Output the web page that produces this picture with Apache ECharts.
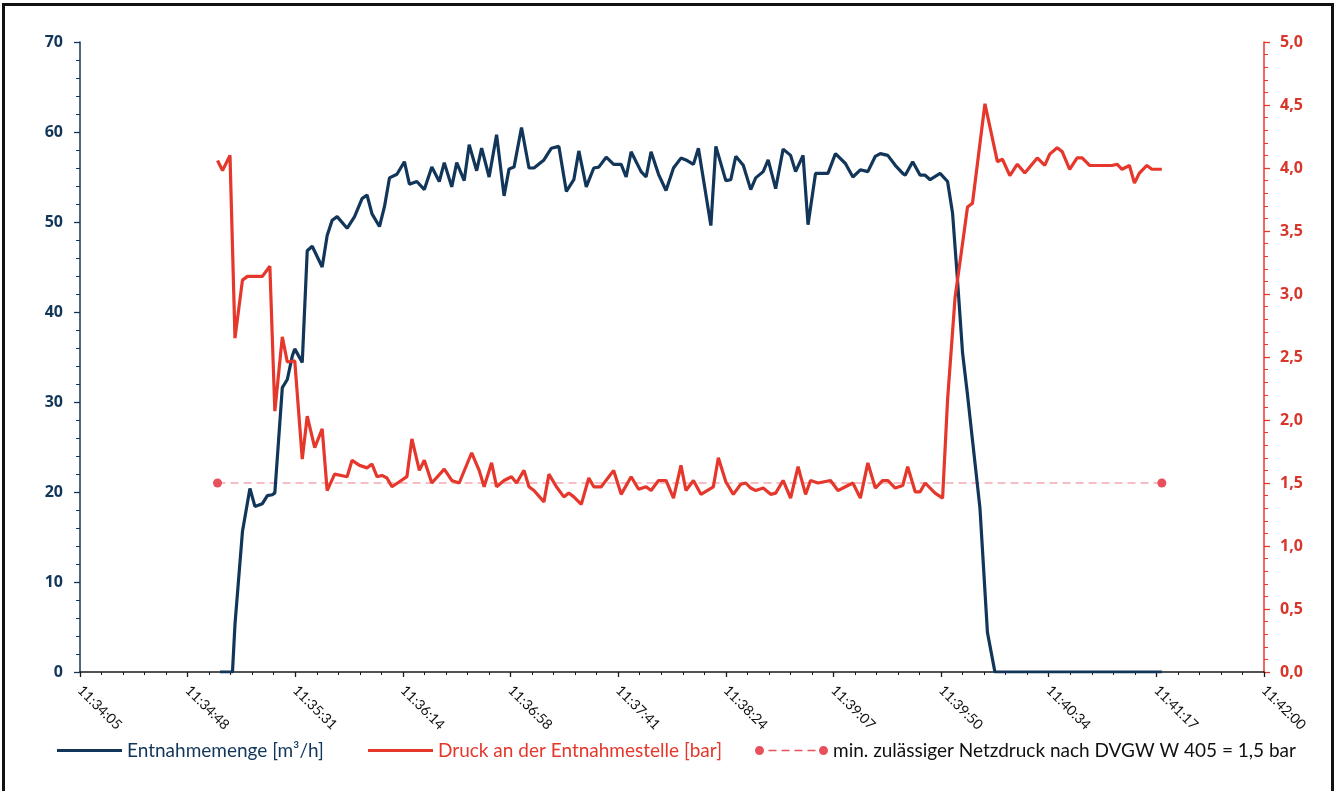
<!DOCTYPE html>
<html>
<head>
<meta charset="utf-8">
<script src="https://cdn.jsdelivr.net/npm/echarts@6/dist/echarts.min.js"></script>
<style>
  html, body { margin: 0; padding: 0; background: #fff; }
  #chart { width: 1336px; height: 791px; }
</style>
</head>
<body>
<div id="chart"></div>
<script>
// ---- data ----
const xTickLabels = ['11:34:05','11:34:48','11:35:31','11:36:14','11:36:58','11:37:41',
                     '11:38:24','11:39:07','11:39:50','11:40:34','11:41:17','11:42:00'];

const flowName = 'Entnahmemenge [m³/h]';
const pressureName = 'Druck an der Entnahmestelle [bar]';
const limitName = 'min. zulässiger Netzdruck nach DVGW W 405 = 1,5 bar';

const flowTimes = ['11:35:01','11:35:06','11:35:07','11:35:10','11:35:13','11:35:15','11:35:18','11:35:20','11:35:22','11:35:23',
  '11:35:26','11:35:28','11:35:30','11:35:31','11:35:33','11:35:34','11:35:36','11:35:38','11:35:42','11:35:44',
  '11:35:46','11:35:48','11:35:52','11:35:55','11:35:58','11:36:00','11:36:02','11:36:05','11:36:07','11:36:09',
  '11:36:12','11:36:15','11:36:17','11:36:20','11:36:23','11:36:26','11:36:29','11:36:31','11:36:34','11:36:36',
  '11:36:39','11:36:41','11:36:44','11:36:46','11:36:49','11:36:52','11:36:55','11:36:57','11:36:59','11:37:02',
  '11:37:05','11:37:07','11:37:11','11:37:14','11:37:17','11:37:20','11:37:23','11:37:25','11:37:28','11:37:31',
  '11:37:33','11:37:36','11:37:39','11:37:42','11:37:44','11:37:46','11:37:50','11:37:52','11:37:54','11:37:57',
  '11:38:00','11:38:03','11:38:06','11:38:08','11:38:11','11:38:13','11:38:18','11:38:20','11:38:24','11:38:26',
  '11:38:28','11:38:31','11:38:34','11:38:36','11:38:39','11:38:41','11:38:44','11:38:47','11:38:50','11:38:52',
  '11:38:55','11:38:57','11:39:00','11:39:05','11:39:08','11:39:12','11:39:15','11:39:18','11:39:21','11:39:24',
  '11:39:26','11:39:29','11:39:32','11:39:35','11:39:36','11:39:39','11:39:42','11:39:44','11:39:46','11:39:50',
  '11:39:53','11:39:55','11:39:57','11:39:59','11:40:01','11:40:06','11:40:09','11:40:12','11:41:19'];
const flowValues = [0,0,5.3,15.6,20.4,18.4,18.7,19.6,19.7,19.9,
  31.6,32.5,35.1,35.9,34.9,34.4,46.8,47.3,45.0,48.5,
  50.2,50.6,49.3,50.6,52.6,53.0,50.9,49.5,51.7,54.9,
  55.3,56.7,54.2,54.5,53.6,56.1,54.5,56.6,53.9,56.6,
  54.6,58.6,55.7,58.2,55.0,59.7,52.9,55.9,56.1,60.5,
  56.0,56.0,56.9,58.2,58.4,53.4,54.7,57.9,53.9,56.0,
  56.1,57.2,56.4,56.4,55.0,57.8,55.6,55.0,57.8,55.3,
  53.5,56.0,57.1,56.9,56.4,58.2,49.6,58.4,54.6,54.7,
  57.3,56.3,53.6,54.9,55.6,56.9,53.7,58.1,57.4,55.6,
  57.4,49.7,55.4,55.4,57.6,56.5,55.0,55.8,55.6,57.3,
  57.6,57.4,56.3,55.4,55.2,56.7,55.2,55.2,54.7,55.4,
  54.5,51.0,43.5,35.5,30.8,18.2,4.4,0,0];

const pressureTimes = ['11:35:00','11:35:02','11:35:05','11:35:07','11:35:10','11:35:12','11:35:18','11:35:21','11:35:23','11:35:26',
  '11:35:28','11:35:31','11:35:34','11:35:36','11:35:39','11:35:42','11:35:44','11:35:47','11:35:52','11:35:54',
  '11:35:57','11:36:00','11:36:02','11:36:04','11:36:06','11:36:08','11:36:10','11:36:13','11:36:16','11:36:18',
  '11:36:21','11:36:23','11:36:26','11:36:31','11:36:34','11:36:37','11:36:42','11:36:45','11:36:47','11:36:50',
  '11:36:52','11:36:55','11:36:58','11:37:00','11:37:03','11:37:05','11:37:07','11:37:11','11:37:13','11:37:16',
  '11:37:19','11:37:21','11:37:23','11:37:26','11:37:29','11:37:31','11:37:34','11:37:39','11:37:42','11:37:46',
  '11:37:49','11:37:52','11:37:54','11:37:57','11:38:00','11:38:03','11:38:06','11:38:08','11:38:11','11:38:14',
  '11:38:19','11:38:21','11:38:24','11:38:27','11:38:30','11:38:32','11:38:34','11:38:36','11:38:39','11:38:42',
  '11:38:44','11:38:47','11:38:50','11:38:53','11:38:56','11:38:58','11:39:01','11:39:06','11:39:09','11:39:12',
  '11:39:15','11:39:18','11:39:21','11:39:24','11:39:27','11:39:29','11:39:32','11:39:35','11:39:37','11:39:40',
  '11:39:42','11:39:44','11:39:48','11:39:51','11:39:53','11:39:56','11:39:59','11:40:01','11:40:03','11:40:08',
  '11:40:13','11:40:15','11:40:18','11:40:21','11:40:24','11:40:29','11:40:32','11:40:34','11:40:37','11:40:39',
  '11:40:42','11:40:45','11:40:47','11:40:50','11:40:59','11:41:01','11:41:03','11:41:06','11:41:08','11:41:10',
  '11:41:13','11:41:15','11:41:19'];
const pressureValues = [4.06,3.98,4.10,2.65,3.11,3.14,3.14,3.22,2.07,2.66,
  2.46,2.47,1.69,2.03,1.78,1.93,1.44,1.57,1.55,1.68,
  1.64,1.62,1.65,1.55,1.56,1.54,1.47,1.51,1.55,1.85,
  1.60,1.68,1.50,1.61,1.52,1.50,1.74,1.60,1.47,1.66,
  1.47,1.52,1.55,1.50,1.60,1.47,1.44,1.35,1.57,1.47,
  1.39,1.42,1.39,1.33,1.54,1.47,1.47,1.60,1.41,1.55,
  1.45,1.47,1.44,1.52,1.52,1.38,1.64,1.44,1.52,1.41,
  1.47,1.70,1.51,1.41,1.49,1.50,1.46,1.44,1.46,1.41,
  1.42,1.52,1.38,1.63,1.41,1.52,1.50,1.52,1.44,1.47,
  1.50,1.38,1.66,1.46,1.52,1.52,1.46,1.48,1.63,1.43,
  1.43,1.50,1.42,1.38,2.16,2.97,3.40,3.69,3.72,4.51,
  4.05,4.07,3.94,4.03,3.96,4.08,4.02,4.11,4.16,4.13,
  3.99,4.08,4.08,4.02,4.02,4.03,3.99,4.02,3.88,3.96,
  4.02,3.99,3.99];

const limitTimes = ['11:35:00','11:41:19'];
const limitValues = [1.5, 1.5];

// ---- helpers ----
function toSec(t) {
  const p = t.split(':').map(Number);
  return p[0] * 3600 + p[1] * 60 + p[2];
}
function pairs(times, values) {
  return times.map((t, i) => [toSec(t), values[i]]);
}

const X_MIN = toSec('11:34:00') + 4.8;   // 0.482 day
const X_STEP = 43.2;                     // 0.0005 day
const X_MAX = toSec('11:42:00');

const BLUE = '#12365a';
const RED = '#e5372b';
const PINK = '#ea7f8a';
const DOT = '#e8505c';

const chart = echarts.init(document.getElementById('chart'), null, { renderer: 'canvas' });

const legendText = { fontFamily: 'Lato', fontSize: 19 };

chart.setOption({
  animation: false,
  backgroundColor: '#fff',
  graphic: [{
    type: 'rect',
    shape: { x: 3.5, y: 4.5, width: 1329, height: 800 },
    style: { fill: 'none', stroke: '#111', lineWidth: 3 },
    silent: true
  }],
  grid: { left: 80, right: 72, top: 42, bottom: 119, containLabel: false },
  legend: [
    {
      data: [{ name: flowName, icon: 'rect' }],
      left: 57, top: 741, padding: 0, itemWidth: 65, itemHeight: 3, itemGap: 0, itemTextGap: 7,
      textStyle: Object.assign({ color: BLUE }, legendText),
      selectedMode: false
    },
    {
      data: [{ name: pressureName, icon: 'rect' }],
      left: 368, top: 741, padding: 0, itemWidth: 65, itemHeight: 3, itemGap: 0, itemTextGap: 7,
      textStyle: Object.assign({ color: RED }, legendText),
      selectedMode: false
    },
    {
      data: [{
        name: limitName,
        icon: 'path://M0.5,5a4.5,4.5 0 1,0 9,0a4.5,4.5 0 1,0 -9,0z M14,4.3h8v1.4h-8z M27,4.3h8v1.4h-8z M40,4.3h8v1.4h-8z M53,4.3h8v1.4h-8z M64.5,5a4.5,4.5 0 1,0 9,0a4.5,4.5 0 1,0 -9,0z'
      }],
      left: 755, top: 741, padding: 0, itemWidth: 73, itemHeight: 9, itemGap: 0, itemTextGap: 4,
      textStyle: Object.assign({ color: '#111' }, legendText),
      selectedMode: false
    }
  ],
  xAxis: {
    type: 'value',
    min: X_MIN, max: X_MAX, interval: X_STEP,
    axisLine: { show: true, onZero: false, lineStyle: { color: '#1a1a1a', width: 1.5 } },
    axisTick: { show: true, length: 5, lineStyle: { color: '#1a1a1a', width: 1.3 } },
    minorTick: { show: true, splitNumber: 5, length: 3, lineStyle: { color: '#1a1a1a', width: 1 } },
    splitLine: { show: false },
    minorSplitLine: { show: false },
    axisLabel: {
      rotate: -45, margin: 16, color: '#111', fontFamily: 'Lato', fontSize: 14,
      formatter: function (v) {
        const i = Math.round((v - X_MIN) / X_STEP);
        return xTickLabels[i] || '';
      }
    }
  },
  yAxis: [
    {
      type: 'value', position: 'left', min: 0, max: 70, interval: 10,
      axisLine: { show: true, lineStyle: { color: BLUE, width: 1.5 } },
      axisTick: { show: true, length: 6, lineStyle: { color: BLUE, width: 1.3 } },
      minorTick: { show: true, splitNumber: 5, length: 4, lineStyle: { color: BLUE, width: 1 } },
      splitLine: { show: false },
      axisLabel: { color: BLUE, fontFamily: 'Open Sans', fontWeight: 'bold', fontSize: 16, margin: 17 }
    },
    {
      type: 'value', position: 'right', min: 0, max: 5, interval: 0.5,
      axisLine: { show: true, lineStyle: { color: RED, width: 1.5 } },
      axisTick: { show: true, length: 6, lineStyle: { color: RED, width: 1.3 } },
      minorTick: { show: true, splitNumber: 5, length: 4, lineStyle: { color: RED, width: 1 } },
      splitLine: { show: false },
      axisLabel: {
        color: '#d8352b', fontFamily: 'Open Sans', fontWeight: 'bold', fontSize: 16, margin: 16,
        formatter: v => v.toFixed(1).replace('.', ',')
      }
    }
  ],
  series: [
    {
      name: limitName, type: 'line', yAxisIndex: 1, z: 2,
      data: pairs(limitTimes, limitValues),
      symbol: 'circle', symbolSize: 9,
      itemStyle: { color: DOT },
      lineStyle: { color: PINK, width: 1.2, type: [8, 5] }
    },
    {
      name: flowName, type: 'line', yAxisIndex: 0, z: 3,
      data: pairs(flowTimes, flowValues),
      symbol: 'none', showSymbol: false,
      itemStyle: { color: BLUE },
      lineStyle: { color: BLUE, width: 3.2 }
    },
    {
      name: pressureName, type: 'line', yAxisIndex: 1, z: 4,
      data: pairs(pressureTimes, pressureValues),
      symbol: 'none', showSymbol: false,
      itemStyle: { color: RED },
      lineStyle: { color: RED, width: 3.2 }
    }
  ]
});
</script>
</body>
</html>
